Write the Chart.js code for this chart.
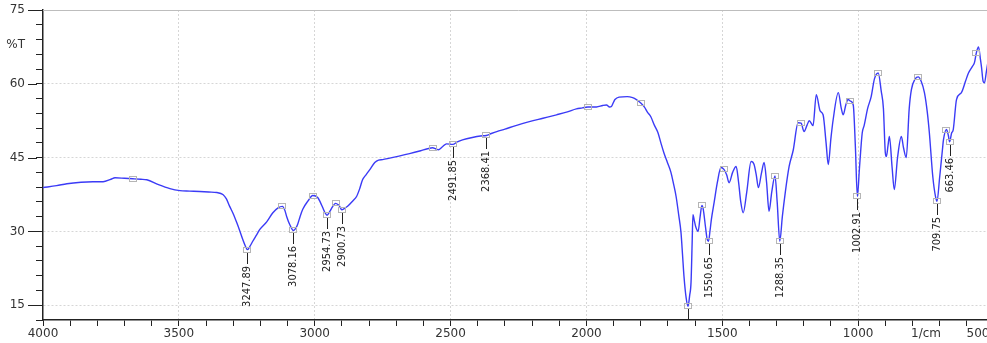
<!DOCTYPE html>
<html>
<head>
<meta charset="utf-8">
<script src="https://cdn.jsdelivr.net/npm/chart.js@4.4.1/dist/chart.umd.min.js"></script>
<style>
  html, body { margin: 0; padding: 0; background: #fff; overflow: hidden; }
  #wrap { position: relative; width: 987px; height: 343px; overflow: hidden; }
  #ir-chart { position: absolute; left: 0; top: 0; }
</style>
</head>
<body>
<div id="wrap"><canvas id="ir-chart" width="1006" height="343"></canvas></div>
<script>
// IR spectrum: wavenumber (1/cm) against transmittance (%T)
const wavenumbers = [
  4000, 3950, 3912, 3860, 3816, 3779, 3750, 3735, 3700, 3669, 3640, 3618, 3575, 3533, 3496, 3460,
  3423, 3390, 3360, 3338, 3325, 3313, 3300, 3287, 3275, 3265, 3255, 3247.89, 3238, 3228, 3215, 3202,
  3176, 3154, 3135, 3119, 3110, 3103, 3092, 3078.16, 3070, 3063, 3054, 3044, 3026, 3007, 2989, 2980,
  2971, 2962, 2954.73, 2945, 2938, 2923, 2913, 2908, 2900.73, 2890, 2879, 2860, 2846, 2835, 2824, 2810,
  2798, 2779, 2765, 2750, 2724, 2690, 2651, 2610, 2585, 2566, 2555, 2545, 2530, 2515, 2491.85, 2475,
  2456, 2420, 2390, 2368.41, 2350, 2330, 2300, 2260, 2210, 2160, 2110, 2070, 2037, 2015, 1995, 1963,
  1940, 1926, 1915, 1908, 1900, 1895, 1880, 1850, 1830, 1816, 1800, 1787, 1775, 1763, 1750, 1737,
  1726, 1715, 1702, 1689, 1680, 1670, 1660, 1652, 1646, 1641, 1633, 1626, 1620, 1615, 1611, 1608,
  1603, 1598, 1589, 1582, 1575, 1570, 1562, 1556, 1550.65, 1545, 1540, 1530, 1518, 1505, 1494, 1484,
  1475, 1462, 1449, 1440, 1432, 1423, 1410, 1394, 1383, 1375, 1367, 1356, 1346, 1337, 1328, 1318,
  1306, 1298, 1288.35, 1279, 1268, 1254, 1239, 1221, 1210, 1199, 1188, 1180, 1166, 1154, 1140, 1129,
  1118, 1110, 1100, 1092, 1073, 1062, 1055, 1045, 1037, 1029, 1018, 1010, 1002.91, 995, 985, 978,
  965, 952, 940, 926, 915, 907, 900, 896, 890, 885, 875, 867, 855, 841, 833, 823,
  812, 804, 790, 779, 768, 756, 745, 738, 725, 715, 709.75, 700, 690, 686, 675, 668,
  663.46, 656, 650, 638, 620, 605, 594, 580, 572, 565, 557, 550, 546, 540, 535, 528,
  520, 505
];
const transmittance = [
  38.9, 39.3, 39.7, 40.0, 40.1, 40.1, 40.6, 40.9, 40.8, 40.7, 40.6, 40.5, 39.5, 38.7, 38.3, 38.2,
  38.1, 38.0, 37.9, 37.5, 36.6, 35.1, 33.6, 31.8, 30.0, 28.4, 27.0, 26.3, 27.0, 28.0, 29.2, 30.4,
  32.0, 33.8, 34.8, 35.1, 34.3, 33.0, 31.4, 30.2, 30.6, 31.4, 33.0, 34.5, 36.1, 37.3, 36.9, 36.0,
  34.9, 33.8, 33.3, 34.0, 34.7, 35.7, 35.4, 35.1, 34.4, 34.7, 35.1, 36.2, 37.1, 38.6, 40.5, 41.6,
  42.5, 44.0, 44.5, 44.6, 44.9, 45.3, 45.8, 46.4, 46.8, 47.0, 46.8, 46.6, 47.2, 47.8, 47.7, 48.2,
  48.6, 49.1, 49.4, 49.5, 49.9, 50.3, 50.8, 51.5, 52.3, 53.0, 53.7, 54.3, 54.9, 55.1, 55.3, 55.3,
  55.6, 55.7, 55.3, 55.4, 56.3, 56.8, 57.3, 57.4, 57.2, 56.8, 56.1, 55.3, 54.2, 53.3, 51.6, 50.1,
  48.0, 46.0, 44.0, 42.0, 39.8, 37.1, 33.2, 29.8, 25.0, 20.9, 16.5, 14.8, 17.0, 19.7, 27.5, 33.4,
  32.2, 31.0, 30.0, 32.8, 35.3, 34.5, 31.0, 28.5, 28.0, 30.2, 32.5, 35.9, 40.0, 43.0, 42.6, 41.5,
  39.9, 42.0, 43.2, 40.0, 36.0, 33.8, 38.0, 44.2, 43.6, 41.5, 38.9, 41.8, 44.0, 40.0, 34.1, 38.0,
  41.3, 36.0, 28.0, 33.0, 38.0, 43.2, 46.5, 52.1, 52.0, 50.3, 51.6, 52.5, 51.5, 57.8, 54.5, 53.7,
  48.0, 43.6, 49.0, 52.7, 58.2, 55.0, 53.7, 55.8, 56.8, 56.5, 55.7, 47.0, 37.1, 43.0, 50.0, 51.5,
  55.0, 57.4, 61.0, 62.2, 58.5, 55.0, 46.0, 45.2, 47.5, 49.3, 43.0, 38.5, 45.0, 49.3, 47.0, 45.0,
  55.0, 58.8, 61.0, 61.4, 60.5, 58.2, 54.0, 50.1, 41.0, 37.0, 36.1, 41.0, 46.5, 48.6, 50.7, 49.5,
  48.2, 50.0, 50.7, 56.8, 58.2, 60.5, 62.2, 63.5, 64.3, 66.3, 67.5, 65.0, 63.4, 60.5, 60.2, 62.5,
  64.9, 65.5
];

// labelled peaks (label under the peak)
const peakPositions = [3247.89, 3078.16, 2954.73, 2900.73, 2491.85, 2368.41, 1626, 1550.65, 1288.35, 1002.91, 709.75, 663.46];
const peakValues    = [26.3, 30.2, 33.3, 34.4, 47.7, 49.5, 14.8, 28.0, 28.0, 37.1, 36.1, 48.2];
const peakLabels    = ['3247.89', '3078.16', '2954.73', '2900.73', '2491.85', '2368.41', '', '1550.65', '1288.35', '1002.91', '709.75', '663.46'];

// other picked points (small squares only)
const markerPositions = [3669, 3119, 3007, 2923, 2566, 1995, 1800, 1575, 1494, 1306, 1210, 1029, 926, 779, 675, 565];
const markerValues    = [40.7, 35.1, 37.3, 35.7, 47.0, 55.3, 56.1, 35.3, 42.6, 41.3, 52.0, 56.5, 62.2, 61.4, 50.7, 66.3];

const xMajorTicks = [4000, 3500, 3000, 2500, 2000, 1500, 1000];
const yMajorTicks = [15, 30, 45, 60, 75];
const xUnitLabel = '1/cm';
const yUnitLabel = '%T';
const xUnitAt = 750;
const xEndLabel = '500';   // last label, pulled inside the frame
const xEndLabelAt = 559;
const yUnitAt = 68;

const points = wavenumbers.map((w, i) => ({ x: w, y: transmittance[i] }));

const peakLabelPlugin = {
  id: 'peakLabels',
  afterDatasetsDraw(chart) {
    const { ctx, chartArea, scales: { x, y } } = chart;
    ctx.save();
    ctx.beginPath();
    ctx.rect(chartArea.left, chartArea.top, chartArea.right - chartArea.left, chartArea.bottom - chartArea.top);
    ctx.clip();

    // squares on picked points
    ctx.strokeStyle = '#b5b5b5';
    ctx.lineWidth = 1;
    const allPos = markerPositions.concat(peakPositions);
    const allVal = markerValues.concat(peakValues);
    allPos.forEach((p, i) => {
      const px = Math.round(x.getPixelForValue(p));
      const py = Math.round(y.getPixelForValue(allVal[i]));
      ctx.strokeRect(px - 3.5, py - 2.5, 7, 5);
    });

    // leader lines + rotated labels
    ctx.strokeStyle = '#222';
    ctx.fillStyle = '#222';
    ctx.font = '11px "Liberation Sans Narrow", "DejaVu Sans Condensed", sans-serif';
    peakPositions.forEach((p, i) => {
      const px = Math.round(x.getPixelForValue(p)) + 0.5;
      const py = Math.round(y.getPixelForValue(peakValues[i]));
      ctx.beginPath();
      ctx.moveTo(px, py + 3);
      ctx.lineTo(px, py + 14);
      ctx.stroke();
      ctx.save();
      ctx.translate(px, py + 16);
      ctx.rotate(-Math.PI / 2);
      ctx.textAlign = 'right';
      ctx.textBaseline = 'middle';
      ctx.fillText(peakLabels[i], 0, 0);
      ctx.restore();
    });
    ctx.restore();
  }
};

const axisExtrasPlugin = {
  id: 'axisExtras',
  afterDraw(chart) {
    const { ctx, chartArea, scales: { y } } = chart;
    ctx.save();
    ctx.lineWidth = 1;
    // longer marks for the labelled y ticks
    ctx.strokeStyle = '#222';
    yMajorTicks.forEach(v => {
      const py = Math.round(y.getPixelForValue(v)) + 0.5;
      ctx.beginPath();
      ctx.moveTo(chartArea.left - 15, py);
      ctx.lineTo(chartArea.left - 6, py);
      ctx.stroke();
    });
    // top frame line
    ctx.strokeStyle = '#bdbdbd';
    ctx.beginPath();
    ctx.moveTo(chartArea.left, chartArea.top + 0.5);
    ctx.lineTo(chartArea.right, chartArea.top + 0.5);
    ctx.stroke();
    ctx.restore();
  }
};

const tickFont = { family: 'DejaVu Sans', size: 12 };
const helperTicks = [xUnitAt, xEndLabelAt];

new Chart(document.getElementById('ir-chart'), {
  type: 'scatter',
  data: {
    datasets: [{
      data: points,
      showLine: true,
      borderColor: '#3b3bf6',
      borderWidth: 1.4,
      pointRadius: 0,
      cubicInterpolationMode: 'monotone',
      fill: false
    }]
  },
  options: {
    responsive: false,
    animation: false,
    devicePixelRatio: 1,
    layout: { padding: { top: 10, left: 0, right: 12, bottom: 0 } },
    plugins: { legend: { display: false }, tooltip: { enabled: false } },
    scales: {
      x: {
        type: 'linear',
        reverse: true,
        min: 500,
        max: 4000,
        afterBuildTicks: scale => {
          helperTicks.forEach(v => scale.ticks.push({ value: v }));
          scale.ticks.sort((a, b) => a.value - b.value);
        },
        afterFit: scale => { scale.height = 23; },
        ticks: {
          stepSize: 100,
          autoSkip: false,
          maxRotation: 0,
          padding: 1,
          color: '#333',
          font: tickFont,
          callback: v => xMajorTicks.includes(v) ? String(v)
            : (v === xUnitAt ? xUnitLabel : (v === xEndLabelAt ? xEndLabel : ''))
        },
        grid: {
          color: c => (c.tick && (xMajorTicks.includes(c.tick.value) || c.tick.value === 500) && c.tick.value !== 4000) ? '#d6d6d6' : 'rgba(0,0,0,0)',
          tickColor: c => (c.tick && helperTicks.includes(c.tick.value)) ? 'rgba(0,0,0,0)' : '#222',
          tickLength: 6,
          tickBorderDash: [],
          lineWidth: 1
        },
        border: { display: true, color: '#222', width: 1.5, dash: [2, 2] }
      },
      y: {
        type: 'linear',
        min: 12,
        max: 75,
        afterBuildTicks: scale => {
          scale.ticks.push({ value: yUnitAt });
          scale.ticks.sort((a, b) => a.value - b.value);
        },
        afterFit: scale => {
          scale.width = 43;
          scale.paddingTop = 0;
          scale.paddingBottom = 0;
        },
        ticks: {
          stepSize: 3,
          autoSkip: false,
          padding: 11,
          color: '#333',
          font: tickFont,
          callback: v => yMajorTicks.includes(v) ? String(v) : (v === yUnitAt ? yUnitLabel : '')
        },
        grid: {
          color: c => (c.tick && yMajorTicks.includes(c.tick.value) && c.tick.value !== 75) ? '#d6d6d6' : 'rgba(0,0,0,0)',
          tickColor: c => (c.tick && c.tick.value === yUnitAt) ? 'rgba(0,0,0,0)' : '#222',
          tickLength: 7,
          tickBorderDash: [],
          lineWidth: 1
        },
        border: { display: true, color: '#222', width: 1.5, dash: [2, 2] }
      }
    }
  },
  plugins: [peakLabelPlugin, axisExtrasPlugin]
});
</script>
</body>
</html>
